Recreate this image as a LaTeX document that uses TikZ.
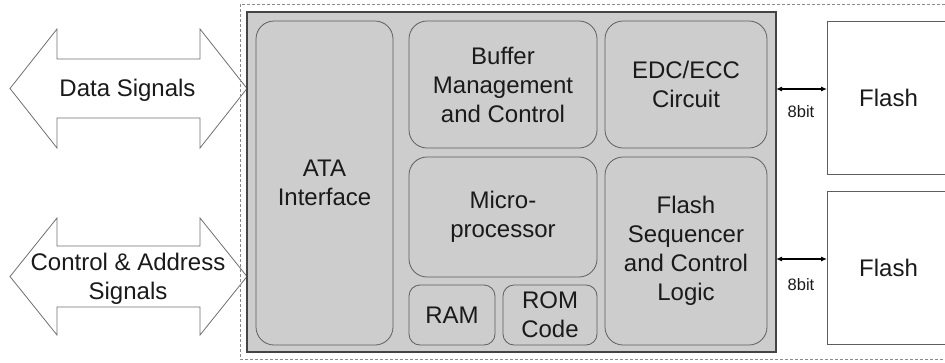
\documentclass[tikz,border=0pt]{standalone}
\usepackage{fontspec}
\setmainfont{Liberation Sans}
\usetikzlibrary{arrows.meta}
\definecolor{chipfill}{HTML}{CDCDCD}
\definecolor{chipedge}{HTML}{444444}
\definecolor{boxedge}{HTML}{5E5E5E}
\definecolor{txt}{HTML}{1A1A1A}
\definecolor{dashc}{HTML}{8A8A8A}
\definecolor{arrowedge}{HTML}{707070}
\tikzset{
  chip/.style={draw=chipedge, line width=1.4pt, fill=chipfill, inner sep=0pt, outer sep=0pt},
  blk/.style={draw=boxedge, line width=0.8pt, fill=chipfill, rounded corners=18pt, align=center,
    text=txt, inner sep=0pt, outer sep=0pt},
  smallblk/.style={blk, rounded corners=11pt},
  flashbox/.style={draw=boxedge, line width=0.8pt, fill=white, inner sep=0pt, outer sep=0pt},
  bigarrow/.style={draw=arrowedge, line width=0.8pt, fill=white},
  lbl/.style={text=txt, align=center, inner sep=0pt},
  buslink/.style={arrows={Latex[length=6pt,width=5pt]-Latex[length=6pt,width=5pt]}, line width=1.1pt, draw=black},
  bitlbl/.style={text=txt, inner sep=0pt, font=\fontsize{16.5}{18}\selectfont},
  outline/.style={draw=dashc, line width=0.8pt, dash pattern=on 3pt off 2pt}
}
\begin{document}
\begin{tikzpicture}[x=1pt,y=-1pt, font=\fontsize{24}{29}\selectfont]
\useasboundingbox (0,0) rectangle (945,362);

% big double arrows
\draw[bigarrow] (10,88.5) -- (57,29) -- (57,59) -- (200,59) -- (200,29) -- (247,88.5)
  -- (200,148) -- (200,118) -- (57,118) -- (57,148) -- cycle;
\node[lbl] (data) at (127.5,90) {Data Signals};
\draw[bigarrow] (10,276.5) -- (57,218) -- (57,246) -- (200,246) -- (200,218) -- (247,276.5)
  -- (200,335) -- (200,307) -- (57,307) -- (57,335) -- cycle;
\node[lbl] (ctrl) at (128,279) {Control \& Address\\Signals};

% controller chip
\node[chip, minimum width=529pt, minimum height=340pt] (chipbox) at (511.5,182) {};
\node[blk, minimum width=137pt, minimum height=324pt] (ata) at (324.5,183) {ATA\\Interface};
\node[blk, minimum width=188pt, minimum height=127pt] (buf) at (503,84.5) {Buffer\\Management\\and Control};
\node[blk, minimum width=188pt, minimum height=120pt] (mp) at (503,217) {Micro-\\processor};
\node[smallblk, minimum width=86pt, minimum height=60pt] (ram) at (452,315) {RAM};
\node[smallblk, minimum width=94pt, minimum height=60pt] (rom) at (550,315) {ROM\\Code};
\node[blk, minimum width=162pt, minimum height=127pt] (edc) at (686,84.5) {EDC/ECC\\Circuit};
\node[blk, minimum width=162pt, minimum height=188pt] (seq) at (686,251) {Flash\\Sequencer\\and Control\\Logic};

% flash chips (right edges run past the picture)
\node[flashbox, minimum width=150pt, minimum height=153pt] (flash1) at (902,97.5) {};
\node[lbl] (flash1txt) at (888.5,97.5) {Flash};
\node[flashbox, minimum width=150pt, minimum height=153pt] (flash2) at (902,267.5) {};
\node[lbl] (flash2txt) at (888.5,267.5) {Flash};

% 8-bit buses
\coordinate (bus1) at (800,89);
\coordinate (bus2) at (800,259);
\draw[buslink] (chipbox.east |- bus1) -- (flash1.west |- bus1);
\draw[buslink] (chipbox.east |- bus2) -- (flash2.west |- bus2);
\node[bitlbl] (bit1) at (801,112) {8bit};
\node[bitlbl] (bit2) at (801,285) {8bit};

% dashed module outline
\draw[outline] (240,4) rectangle (960,359);
\end{tikzpicture}
\end{document}
